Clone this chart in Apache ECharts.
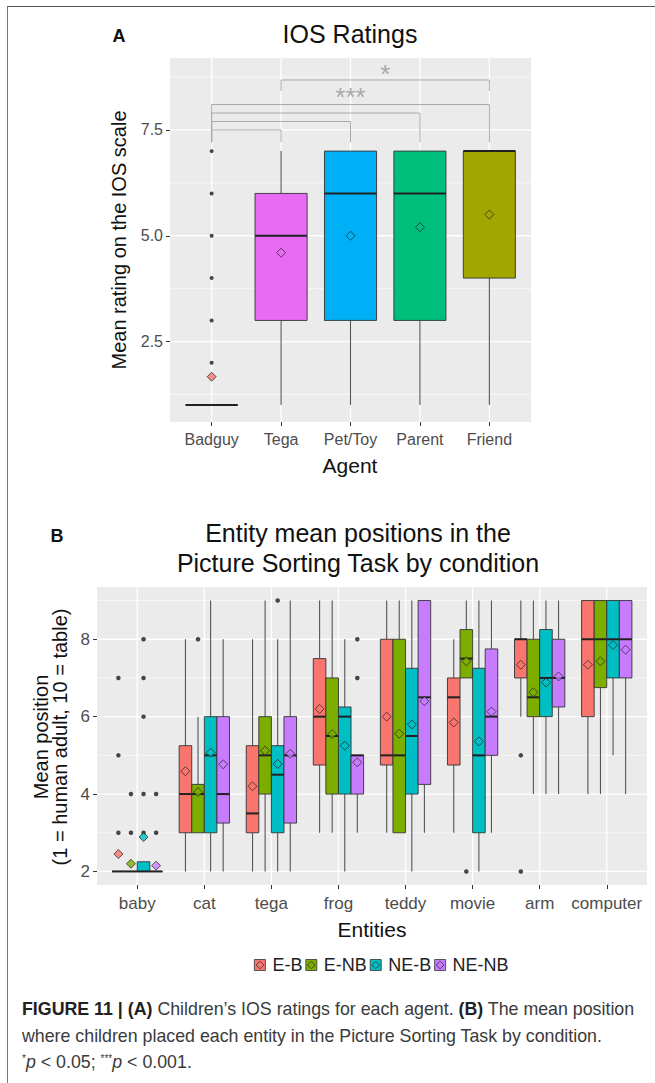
<!DOCTYPE html>
<html>
<head>
<meta charset="utf-8">
<script src="https://cdn.jsdelivr.net/npm/echarts@6/dist/echarts.min.js"></script>
<style>
  html, body { margin: 0; padding: 0; background: #fff; }
  #frame { position: absolute; left: 7px; top: 6px; width: 648px; height: 1077px; border-top: 1px solid #555; border-left: 1px solid #777; }
  #main { position: absolute; left: 0; top: 0; width: 655px; height: 1083px; }
  #caption { position: absolute; left: 22px; top: 996px; white-space: nowrap; font: 17.8px/26.5px "Liberation Sans", Arial, sans-serif; color: #3a3a3a; }
  #caption b { color: #222; }
  #caption sup { font-size: 10px; vertical-align: 6px; line-height: 0; }
</style>
</head>
<body>
<div id="frame"></div>
<div id="main"></div>
<div id="caption"><b>FIGURE 11 | (A)</b> Children’s IOS ratings for each agent. <b>(B)</b> The mean position<br>where children placed each entity in the Picture Sorting Task by condition.<br><sup>*</sup><i>p</i> &lt; 0.05; <sup>***</sup><i>p</i> &lt; 0.001.</div>
<script>
const FONT = '"Liberation Sans", Arial, sans-serif';

// ---- panel A: IOS ratings ----
const agents = ['Badguy', 'Tega', 'Pet/Toy', 'Parent', 'Friend'];
// [lower whisker, Q1, median, Q3, upper whisker]
const iosBoxes = [[1, 1, 1, 1, 1], [1, 3, 5, 6, 7], [1, 3, 6, 7, 7], [1, 3, 6, 7, 7], [1, 4, 7, 7, 7]];
const iosMeans = [1.67, 4.6, 5.0, 5.2, 5.5];
const iosOutliers = [[2, 3, 4, 5, 6, 7], [], [], [], []];
const iosTicks = [2.5, 5, 7.5];
const iosMinor = [1.25, 3.75, 6.25, 8.75];
// significance brackets: from agent, to agent, bar height, foot height
const sigFrom = [1, 1, 1, 1, 2];
const sigTo = [2, 3, 4, 5, 5];
const sigTop = [7.5, 7.7, 7.9, 8.1, 8.68];
const sigFoot = [7.21, 7.21, 7.21, 7.21, 8.42];
const sigText = ['***', '*'];
const sigTextFrom = [1, 2];
const sigTextTo = [5, 5];
const sigTextY = [8.27, 8.83];

// ---- panel B: picture sorting ----
const entities = ['baby', 'cat', 'tega', 'frog', 'teddy', 'movie', 'arm', 'computer'];
const conditions = ['E-B', 'E-NB', 'NE-B', 'NE-NB'];
const boxEB = [[2, 2, 2, 2, 2], [2, 3, 4, 5.25, 8], [2, 3, 3.5, 5.25, 8], [3, 4.75, 6, 7.5, 9], [3, 4.75, 5, 8, 9], [3, 4.75, 6.5, 7, 8], [6, 7, 8, 8, 9], [4, 6, 8, 9, 9]];
const boxENB = [[2, 2, 2, 2, 2], [3, 3, 4, 4.25, 6], [2, 4, 5, 6, 9], [3, 4, 5.5, 7, 9], [3, 3, 5, 8, 9], [7, 7, 7.5, 8.25, 9], [4, 6, 6.5, 8, 9], [4, 6.75, 8, 9, 9]];
const boxNEB = [[2, 2, 2, 2.25, 2.25], [2, 3, 5, 6, 9], [2, 3, 4.5, 5.25, 8], [2, 4, 6, 6.25, 8], [2, 4, 5.5, 7.25, 9], [2, 3, 5, 7.25, 9], [4, 6, 7, 8.25, 9], [5, 7, 8, 9, 9]];
const boxNENB = [[2, 2, 2, 2, 2], [2, 3.25, 4, 6, 8], [2, 3.25, 5, 6, 9], [3, 4, 5, 5, 5], [3, 4.25, 6.5, 9, 9], [3, 5, 6, 7.75, 9], [4, 6.25, 7, 8, 9], [4, 7, 8, 9, 9]];
const meanEB = [2.45, 4.59, 4.2, 6.2, 6.0, 5.85, 7.34, 7.34];
const meanENB = [2.2, 4.05, 5.12, 5.55, 5.56, 7.43, 6.63, 7.43];
const meanNEB = [2.89, 5.07, 4.78, 5.25, 5.8, 5.36, 6.88, 7.85];
const meanNENB = [2.15, 4.77, 5.04, 4.82, 6.4, 6.13, 7.04, 7.73];
const outEB = [[3, 5, 7], [], [], [], [], [], [2, 5], []];
const outENB = [[3, 4], [8], [], [], [], [2], [], []];
const outNEB = [[3, 4, 6, 7, 8], [], [9], [], [], [], [], []];
const outNENB = [[3, 4], [], [], [7, 8], [], [], [], []];
const posTicks = [2, 4, 6, 8];
const posMinor = [3, 5, 7, 9];

const agentColors = ['#F8766D', '#E76BF3', '#00B0F6', '#00BF7D', '#A3A500'];
const condColors = ['#F8766D', '#7CAE00', '#00BFC4', '#C77CFF'];

function gridLines(idx, major, minor, cats) {
  const data = [];
  minor.forEach(v => data.push([0, v, 0.6]));
  major.forEach(v => data.push([0, v, 1.3]));
  cats.forEach(v => data.push([1, v, 1.3]));
  return {
    type: 'custom', xAxisIndex: idx, yAxisIndex: idx, z: 1, silent: true,
    data: data,
    renderItem: (params, api) => {
      const cs = params.coordSys;
      const v = api.value(1);
      let shape;
      if (api.value(0) === 0) {
        const y = api.coord([1, v])[1];
        shape = { x1: cs.x, y1: y, x2: cs.x + cs.width, y2: y };
      } else {
        const x = api.coord([v, 5])[0];
        shape = { x1: x, y1: cs.y, x2: x, y2: cs.y + cs.height };
      }
      return { type: 'line', shape: shape, style: { stroke: '#fff', lineWidth: api.value(2) } };
    }
  };
}

function boxSeries(name, idx, boxes, offset, width, color) {
  return {
    type: 'custom', name: name, xAxisIndex: idx, yAxisIndex: idx, z: 3,
    itemStyle: { color: color, borderColor: '#333', borderWidth: 0.8 },
    data: boxes.map((b, i) => [i + 1 + offset].concat(b)),
    renderItem: (params, api) => {
      const x = api.value(0);
      const half = api.size([width, 0])[0] / 2;
      const cx = api.coord([x, api.value(1)])[0];
      const yLow = api.coord([x, api.value(1)])[1];
      const yQ1 = api.coord([x, api.value(2)])[1];
      const yMed = api.coord([x, api.value(3)])[1];
      const yQ3 = api.coord([x, api.value(4)])[1];
      const yHigh = api.coord([x, api.value(5)])[1];
      const wl = { stroke: '#555', lineWidth: 1.1 };
      return {
        type: 'group',
        children: [
          { type: 'line', shape: { x1: cx, y1: yHigh, x2: cx, y2: yQ3 }, style: wl },
          { type: 'line', shape: { x1: cx, y1: yQ1, x2: cx, y2: yLow }, style: wl },
          { type: 'rect', shape: { x: cx - half, y: yQ3, width: half * 2, height: yQ1 - yQ3 },
            style: { fill: color, stroke: '#333', lineWidth: 0.9 } },
          { type: 'line', shape: { x1: cx - half, y1: yMed, x2: cx + half, y2: yMed },
            style: { stroke: '#222', lineWidth: 2 } }
        ]
      };
    }
  };
}

function outlierSeries(name, idx, outs, offset, size) {
  const pts = [];
  outs.forEach((arr, i) => arr.forEach(v => pts.push([i + 1 + offset, v])));
  return {
    type: 'scatter', name: name, xAxisIndex: idx, yAxisIndex: idx, z: 4, silent: true,
    symbol: 'circle', symbolSize: size, itemStyle: { color: '#1a1a1a' }, data: pts
  };
}

function meanSeries(name, idx, means, offset, color) {
  return {
    type: 'scatter', name: name, xAxisIndex: idx, yAxisIndex: idx, z: 5, silent: true,
    symbol: 'diamond', symbolSize: 9,
    itemStyle: { color: color, borderColor: '#222', borderWidth: 0.9 },
    data: means.map((m, i) => [i + 1 + offset, m])
  };
}

const series = [];
series.push(gridLines(0, iosTicks, iosMinor, [1, 2, 3, 4, 5]));
series.push(gridLines(1, posTicks, posMinor, [1, 2, 3, 4, 5, 6, 7, 8]));

// panel A: one box per agent
agents.forEach((a, i) => {
  series.push(boxSeries('ios-' + a, 0, [iosBoxes[i]], i, 0.75, agentColors[i]));
  series.push(meanSeries('ios-mean-' + a, 0, [iosMeans[i]], i, agentColors[i]));
});
series.push(outlierSeries('ios-out', 0, iosOutliers, 0, 4));

// significance brackets
series.push({
  type: 'custom', xAxisIndex: 0, yAxisIndex: 0, z: 6, silent: true,
  data: sigFrom.map((f, i) => [f, sigTo[i], sigTop[i], sigFoot[i]]),
  renderItem: (params, api) => {
    const a = api.coord([api.value(0), api.value(3)]);
    const b = api.coord([api.value(0), api.value(2)]);
    const c = api.coord([api.value(1), api.value(2)]);
    const d = api.coord([api.value(1), api.value(3)]);
    return { type: 'polyline', shape: { points: [a, b, c, d] }, style: { stroke: '#A9A9A9', lineWidth: 1, fill: null } };
  }
});
series.push({
  type: 'custom', xAxisIndex: 0, yAxisIndex: 0, z: 6, silent: true,
  data: sigTextFrom.map((f, i) => [(f + sigTextTo[i]) / 2, sigTextY[i]]),
  renderItem: (params, api) => {
    const p = api.coord([api.value(0), api.value(1)]);
    return { type: 'text', x: p[0], y: p[1],
      style: { text: sigText[params.dataIndex], fill: '#A9A9A9', font: '26px ' + FONT, align: 'center', verticalAlign: 'middle' } };
  }
});

// panel B: dodged boxes per condition
const offsets = [-0.28125, -0.09375, 0.09375, 0.28125];
const bBoxes = [boxEB, boxENB, boxNEB, boxNENB];
const bMeans = [meanEB, meanENB, meanNEB, meanNENB];
const bOuts = [outEB, outENB, outNEB, outNENB];
conditions.forEach((c, k) => {
  series.push(boxSeries(c, 1, bBoxes[k], offsets[k], 0.1875, condColors[k]));
  series.push(outlierSeries(c, 1, bOuts[k], offsets[k], 4.5));
  series.push(meanSeries(c, 1, bMeans[k], offsets[k], condColors[k]));
});

const tickStyle = { show: true, length: 4, lineStyle: { color: '#333', width: 1 } };
const labelBase = { color: '#4D4D4D', fontFamily: FONT };

const keyIcon = 'path://M0,0H10V10H0Z M5,1.5L8.5,5L5,8.5L1.5,5Z';

const option = {
  animation: false,
  grid: [
    { left: 170, top: 58, width: 361, height: 364, show: true, backgroundColor: '#EBEBEB', borderWidth: 0 },
    { left: 97, top: 587, width: 550, height: 298, show: true, backgroundColor: '#EBEBEB', borderWidth: 0 }
  ],
  xAxis: [
    { gridIndex: 0, type: 'value', min: 0.4, max: 5.6,
      axisLine: { show: false }, splitLine: { show: false },
      axisTick: { ...tickStyle, customValues: [1, 2, 3, 4, 5] },
      axisLabel: { ...labelBase, fontSize: 16, margin: 9, customValues: [1, 2, 3, 4, 5], formatter: v => agents[Math.round(v) - 1] } },
    { gridIndex: 1, type: 'value', min: 0.4, max: 8.6,
      axisLine: { show: false }, splitLine: { show: false },
      axisTick: { ...tickStyle, customValues: [1, 2, 3, 4, 5, 6, 7, 8] },
      axisLabel: { ...labelBase, fontSize: 17, margin: 10, customValues: [1, 2, 3, 4, 5, 6, 7, 8], formatter: v => entities[Math.round(v) - 1] } }
  ],
  yAxis: [
    { gridIndex: 0, type: 'value', min: 0.6, max: 9.2,
      axisLine: { show: false }, splitLine: { show: false },
      axisTick: { ...tickStyle, customValues: iosTicks },
      axisLabel: { ...labelBase, fontSize: 16, margin: 7, customValues: iosTicks, formatter: v => v.toFixed(1) } },
    { gridIndex: 1, type: 'value', min: 1.65, max: 9.35,
      axisLine: { show: false }, splitLine: { show: false },
      axisTick: { ...tickStyle, customValues: posTicks },
      axisLabel: { ...labelBase, fontSize: 17, margin: 7, customValues: posTicks, formatter: v => String(v) } }
  ],
  legend: {
    left: 249, top: 951, itemWidth: 11, itemHeight: 11, itemGap: 3,
    selectedMode: false,
    data: conditions.map(c => ({ name: c, icon: keyIcon })),
    itemStyle: { borderColor: '#333', borderWidth: 0.8 },
    textStyle: { fontSize: 18, color: '#222', fontFamily: FONT, padding: [0, 0, 0, 2] }
  },
  graphic: [
    { type: 'text', x: 119, y: 36, style: { text: 'A', font: 'bold 18px ' + FONT, fill: '#111', align: 'center', verticalAlign: 'middle' } },
    { type: 'text', x: 350, y: 34, style: { text: 'IOS Ratings', font: '25px ' + FONT, fill: '#111', align: 'center', verticalAlign: 'middle' } },
    { type: 'text', x: 119, y: 240, rotation: Math.PI / 2, style: { text: 'Mean rating on the IOS scale', font: '20px ' + FONT, fill: '#111', align: 'center', verticalAlign: 'middle' } },
    { type: 'text', x: 350, y: 465, style: { text: 'Agent', font: '21px ' + FONT, fill: '#111', align: 'center', verticalAlign: 'middle' } },
    { type: 'text', x: 57, y: 536, style: { text: 'B', font: 'bold 18px ' + FONT, fill: '#111', align: 'center', verticalAlign: 'middle' } },
    { type: 'text', x: 358, y: 533, style: { text: 'Entity mean positions in the', font: '25px ' + FONT, fill: '#111', align: 'center', verticalAlign: 'middle' } },
    { type: 'text', x: 358, y: 563, style: { text: 'Picture Sorting Task by condition', font: '25px ' + FONT, fill: '#111', align: 'center', verticalAlign: 'middle' } },
    { type: 'text', x: 50, y: 737, rotation: Math.PI / 2, style: { text: 'Mean position\n(1 = human adult, 10 = table)', font: '20px ' + FONT, lineHeight: 19, fill: '#111', align: 'center', verticalAlign: 'middle' } },
    { type: 'text', x: 372, y: 929, style: { text: 'Entities', font: '21px ' + FONT, fill: '#111', align: 'center', verticalAlign: 'middle' } }
  ],
  series: series
};

const chart = echarts.init(document.getElementById('main'), null, { renderer: 'svg' });
chart.setOption(option);
window.addEventListener('resize', () => chart.resize());
</script>
</body>
</html>
